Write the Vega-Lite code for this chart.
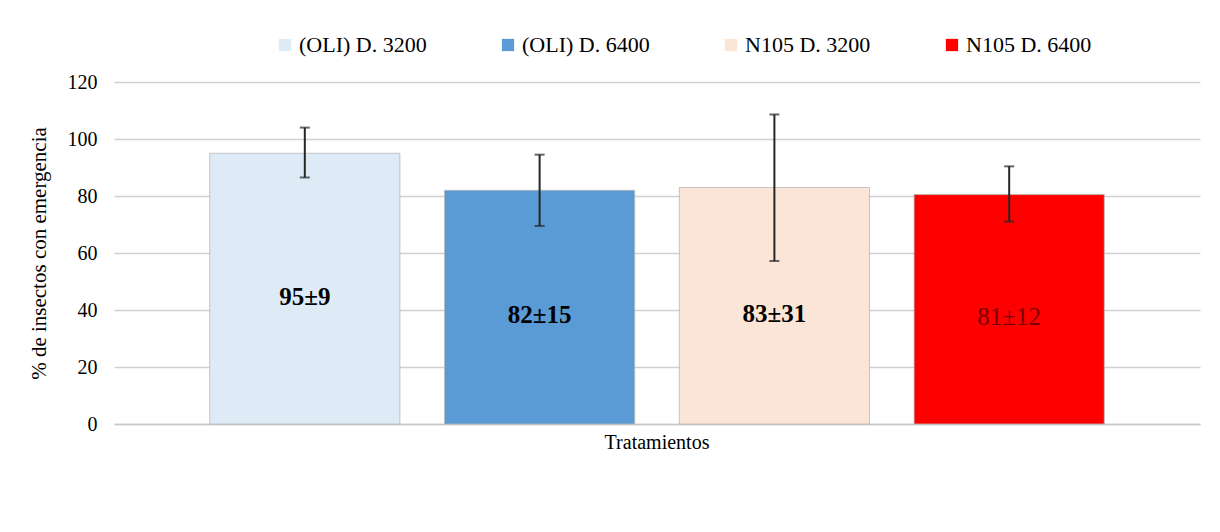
{
  "$schema": "https://vega.github.io/schema/vega-lite/v6.json",
  "width": 1220,
  "height": 532,
  "autosize": {"type": "fit", "contains": "padding"},
  "padding": {"left": 28, "top": 72, "right": 20, "bottom": 80},
  "background": "white",
  "config": {
    "view": {"stroke": null},
    "font": "Liberation Serif",
    "legend": {"labelFont": "Liberation Serif"},
    "axis": {"labelFont": "Liberation Serif", "titleFont": "Liberation Serif"}
  },
  "data": {
    "values": [
      {"grupo": "Tratamientos", "trat": "(OLI) D. 3200", "valor": 95, "lo": 86.5, "hi": 104, "label": "95±9"},
      {"grupo": "Tratamientos", "trat": "(OLI) D. 6400", "valor": 82, "lo": 69.5, "hi": 94.5, "label": "82±15"},
      {"grupo": "Tratamientos", "trat": "N105 D. 3200", "valor": 83, "lo": 57.2, "hi": 108.6, "label": "83±31"},
      {"grupo": "Tratamientos", "trat": "N105 D. 6400", "valor": 80.5, "lo": 71, "hi": 90.4, "label": "81±12"}
    ]
  },
  "transform": [{"calculate": "datum.valor / 2", "as": "mid"}],
  "encoding": {
    "x": {
      "field": "grupo",
      "type": "nominal",
      "scale": {"paddingInner": 0, "paddingOuter": 0.107},
      "axis": {
        "title": null,
        "labelAngle": 0,
        "labelFontSize": 20,
        "labelColor": "#000000",
        "labelPadding": 8,
        "ticks": false,
        "domainColor": "#c8c8c8",
        "domainWidth": 1.5
      }
    },
    "xOffset": {
      "field": "trat",
      "type": "nominal",
      "sort": ["(OLI) D. 3200", "(OLI) D. 6400", "N105 D. 3200", "N105 D. 6400"],
      "scale": {"paddingInner": 0.19, "paddingOuter": 0}
    }
  },
  "layer": [
    {
      "mark": {"type": "bar", "stroke": "#b8b8b8", "strokeWidth": 0.8},
      "encoding": {
        "y": {
          "field": "valor",
          "type": "quantitative",
          "scale": {"domain": [0, 120]},
          "axis": {
            "title": "% de insectos con emergencia",
            "titleFontSize": 21,
            "titleFontWeight": "normal",
            "titleColor": "#000000",
            "titlePadding": 18,
            "values": [0, 20, 40, 60, 80, 100, 120],
            "labelFontSize": 20,
            "labelColor": "#000000",
            "labelPadding": 17,
            "ticks": false,
            "domain": false,
            "gridColor": "#d0d0d0",
            "gridWidth": 1.5
          }
        },
        "color": {
          "field": "trat",
          "type": "nominal",
          "scale": {
            "domain": ["(OLI) D. 3200", "(OLI) D. 6400", "N105 D. 3200", "N105 D. 6400"],
            "range": ["#DEEBF7", "#5B9BD5", "#FBE5D6", "#FF0000"]
          },
          "legend": {
            "title": null,
            "orient": "none",
            "legendX": 160,
            "legendY": -48,
            "direction": "horizontal",
            "symbolType": "square",
            "symbolSize": 150,
            "symbolStrokeWidth": 0,
            "labelFont": "Liberation Serif",
            "labelFontSize": 22,
            "labelColor": "#000000",
            "labelOffset": 3,
            "labelLimit": 300,
            "columnPadding": 70
          }
        }
      }
    },
    {
      "mark": {"type": "rule", "color": "#262626", "strokeWidth": 2},
      "encoding": {
        "y": {"field": "lo", "type": "quantitative"},
        "y2": {"field": "hi"}
      }
    },
    {
      "mark": {"type": "tick", "color": "#262626", "size": 10, "thickness": 2},
      "encoding": {"y": {"field": "lo", "type": "quantitative"}}
    },
    {
      "mark": {"type": "tick", "color": "#262626", "size": 10, "thickness": 2},
      "encoding": {"y": {"field": "hi", "type": "quantitative"}}
    },
    {
      "transform": [{"filter": "datum.trat != 'N105 D. 6400'"}],
      "mark": {"type": "text", "fontSize": 25, "fontWeight": "bold", "color": "#000000", "dy": 8},
      "encoding": {
        "y": {"field": "mid", "type": "quantitative"},
        "text": {"field": "label"}
      }
    },
    {
      "transform": [{"filter": "datum.trat == 'N105 D. 6400'"}],
      "mark": {"type": "text", "fontSize": 25, "fontWeight": "normal", "color": "#7a0000", "dy": 8},
      "encoding": {
        "y": {"field": "mid", "type": "quantitative"},
        "text": {"field": "label"}
      }
    }
  ]
}
